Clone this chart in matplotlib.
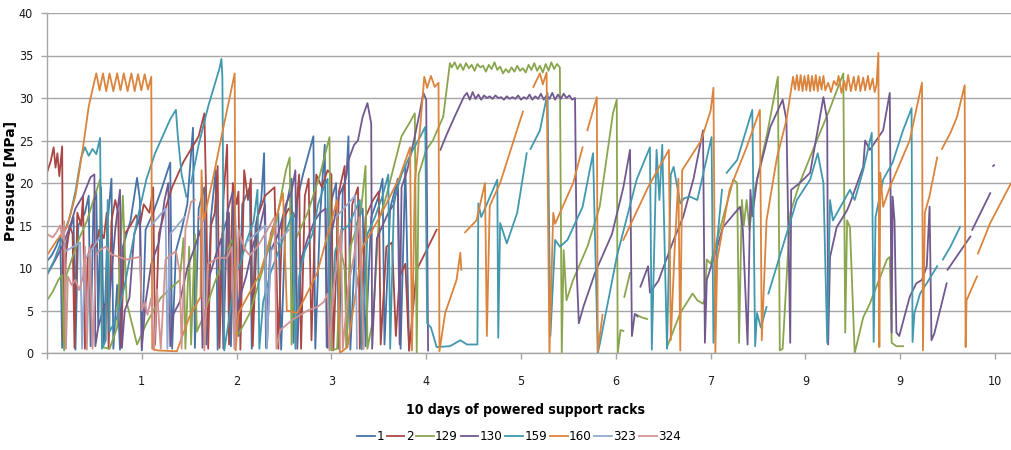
import numpy as np
import matplotlib
matplotlib.use("Agg")
import matplotlib.pyplot as plt
from matplotlib import font_manager as fm

# Pressure readings of eight powered support racks over ten days.
# Each rack is a list of (day, MPa) samples; None marks a break in the record.

rack_names = ["1", "2", "129", "130", "159", "160", "323", "324"]
rack_colors = ["#4572A7", "#AA4643", "#89A54E", "#71588F",
               "#4198AF", "#DB843D", "#93A9CF", "#D19392"]

day_ticks = [0, 1, 2, 3, 4, 5, 6, 7, 8, 9, 10]
day_labels = ["", "1", "2", "3", "4", "5", "6", "7", "9", "9", "10"]
pressure_ticks = [0, 5, 10, 15, 20, 25, 30, 35, 40]

rack_1 = [(0.00, 10.8), (0.05, 11.5), (0.10, 12.6), (0.14, 13.8), (0.16, 0.6), (0.18, 12.0),
          (0.24, 14.5), (0.28, 16.0), (0.30, 0.4), (0.33, 15.0), (0.40, 16.5), (0.44, 18.5),
          (0.46, 0.8), (0.49, 17.5), (0.52, 19.0), (0.54, 3.0), (0.57, 19.5), (0.60, 1.0),
          (0.64, 15.5), (0.68, 20.5), (0.70, 0.5), (0.74, 8.0), (0.77, 0.4), (0.80, 12.5),
          (0.88, 15.5), (0.95, 20.6), (0.98, 18.0), (1.00, 0.3), (1.04, 14.5), (1.12, 16.5),
          (1.20, 19.0), (1.30, 22.4), (1.32, 0.5), (1.36, 12.0), (1.42, 14.5), (1.48, 17.5),
          (1.54, 26.5), (1.56, 0.6), (1.60, 17.0), (1.66, 19.5), (1.68, 1.0), (1.73, 16.0),
          (1.78, 21.5), (1.80, 0.4), (1.85, 14.0), (1.92, 16.5), (1.94, 0.8), (1.98, 18.0),
          (2.02, 2.0), (2.06, 17.5), (2.14, 19.5), (2.16, 0.5), (2.20, 15.0), (2.26, 18.0),
          (2.29, 23.5), (2.31, 0.6), (2.36, 14.0), (2.44, 16.5), (2.47, 0.4), (2.52, 17.0),
          (2.58, 20.5), (2.60, 1.2), (2.64, 18.0), (2.70, 21.0), (2.81, 25.5), (2.83, 0.5),
          (2.88, 16.0), (2.93, 24.5), (2.95, 0.7), (2.99, 17.5), (3.05, 20.0), (3.08, 0.5),
          (3.12, 19.0), (3.16, 21.0), (3.18, 25.5), (3.20, 0.4), (3.26, 15.0), (3.33, 17.0),
          (3.36, 0.8), (3.42, 16.0), (3.50, 18.5), (3.54, 20.5), (3.56, 1.0), (3.62, 17.0),
          (3.70, 20.5), (3.73, 0.5), (3.78, 22.0), (3.82, 0.3)]

rack_2 = [(0.00, 21.2), (0.04, 22.6), (0.07, 24.2), (0.09, 21.8), (0.11, 23.5), (0.13, 20.8),
          (0.16, 24.3), (0.17, 1.5), (0.20, 11.5), (0.24, 15.0), (0.27, 14.0), (0.29, 0.6),
          (0.32, 16.5), (0.36, 15.0), (0.38, 18.5), (0.40, 0.5), (0.43, 11.5), (0.48, 12.8),
          (0.52, 12.5), (0.55, 14.5), (0.60, 13.5), (0.63, 16.5), (0.65, 0.5), (0.68, 15.5),
          (0.72, 18.0), (0.75, 16.5), (0.78, 0.8), (0.82, 14.0), (0.88, 15.0), (0.94, 16.2),
          (0.98, 15.0), (1.02, 17.5), (1.08, 16.5), (1.12, 19.5), (1.14, 1.0), (1.18, 14.0),
          (1.25, 17.0), (1.32, 19.5), (1.38, 21.0), (1.44, 22.5), (1.52, 24.0), (1.60, 25.5),
          (1.66, 28.2), (1.68, 18.0), (1.70, 0.5), (1.73, 15.0), (1.77, 16.5), (1.80, 22.0),
          (1.82, 0.6), (1.86, 18.0), (1.90, 24.5), (1.92, 1.0), (1.96, 20.0), (2.00, 17.5),
          (2.02, 19.0), (2.04, 0.4), (2.08, 21.5), (2.12, 18.0), (2.15, 20.5), (2.17, 0.8),
          (2.22, 16.0), (2.30, 18.5), (2.40, 19.5), (2.44, 0.5), (2.48, 15.5), (2.55, 17.0),
          (2.62, 16.0), (2.66, 21.0), (2.68, 0.5), (2.72, 18.5), (2.76, 20.5), (2.79, 1.5),
          (2.84, 21.0), (2.90, 19.5), (2.96, 21.5), (3.00, 21.0), (3.02, 0.3), (3.08, 19.0),
          (3.14, 22.0), (3.16, 0.7), (3.22, 17.5), (3.28, 19.5), (3.30, 0.5), (3.36, 16.0),
          (3.44, 18.0), (3.50, 19.0), (3.52, 1.0), (3.58, 12.5), (3.64, 13.0), (3.68, 2.0),
          (3.72, 9.0), (3.78, 10.5), (3.82, 0.3), (3.90, 9.8), (4.00, 12.0), (4.11, 14.5)]

rack_129 = [(0.00, 6.2), (0.06, 7.2), (0.12, 8.6), (0.16, 9.2), (0.18, 0.3), (0.20, 9.0),
            (0.26, 11.0), (0.34, 13.5), (0.42, 15.5), (0.49, 18.0), (0.56, 20.4), (0.58, 0.7),
            (0.66, 0.5), (0.74, 3.0), (0.80, 18.5), (0.84, 6.0), (0.95, 1.0), (1.05, 3.5),
            (1.20, 6.5), (1.40, 8.6), (1.44, 13.5), (1.46, 0.5), (1.50, 12.5), (1.52, 1.0),
            (1.56, 14.0), (1.58, 2.5), (1.64, 4.0), (1.76, 8.0), (1.88, 11.5), (1.96, 13.5),
            (1.98, 2.0), (2.03, 2.4), (2.14, 4.7), (2.28, 10.0), (2.42, 15.5), (2.52, 21.5),
            (2.56, 23.0), (2.58, 1.0), (2.62, 13.3), (2.75, 16.5), (2.88, 21.0), (2.98, 25.4),
            (3.00, 0.3), (3.06, 0.5), (3.10, 12.0), (3.14, 10.0), (3.16, 0.6), (3.20, 12.5),
            (3.26, 14.5), (3.31, 16.5), (3.36, 22.0), (3.38, 0.5), (3.44, 4.0), (3.50, 15.6),
            (3.58, 18.5), (3.66, 22.0), (3.74, 25.5), (3.82, 27.0), (3.88, 28.2), (3.90, 0.0),
            (3.92, 21.0), (4.00, 23.9), (4.07, 25.0), (4.18, 27.8), (4.25, 34.1),
            (4.27, 33.6), (4.30, 34.2), (4.33, 33.4), (4.36, 34.0), (4.39, 33.3), (4.42, 34.1),
            (4.45, 33.5), (4.48, 33.9), (4.51, 33.2), (4.54, 34.0), (4.57, 33.6), (4.60, 33.8),
            (4.63, 33.1), (4.66, 33.9), (4.69, 33.4), (4.72, 34.2), (4.75, 33.3), (4.78, 33.7),
            (4.81, 32.9), (4.84, 33.4), (4.87, 33.0), (4.90, 33.6), (4.93, 33.1), (4.96, 33.8),
            (4.99, 33.2), (5.02, 33.5), (5.05, 33.0), (5.08, 33.9), (5.11, 33.3), (5.14, 34.1),
            (5.17, 33.2), (5.20, 33.8), (5.23, 33.0), (5.26, 34.0), (5.29, 33.2), (5.32, 34.2),
            (5.35, 33.4), (5.38, 34.0), (5.41, 33.6), (5.43, 0.0), (5.45, 12.1), (5.48, 6.2),
            (5.55, 8.6), (5.70, 12.5), (5.83, 17.2), (5.97, 28.2), (6.01, 29.8), (6.02, 0.0),
            (6.05, 2.7), (6.08, 2.6), None, (6.09, 6.6), (6.15, 9.4), None, (6.22, 4.5),
            (6.27, 4.2), (6.33, 4.0), None, (6.54, 0.7), (6.68, 4.7), (6.81, 7.0), (6.86, 6.2),
            (6.92, 5.8), (6.94, 6.4), (6.96, 11.0), (7.00, 10.5), (7.24, 20.4), (7.28, 20.0),
            (7.30, 1.2), (7.33, 18.0), (7.35, 15.0), (7.38, 18.0), (7.41, 14.5), (7.45, 18.4),
            (7.60, 26.0), (7.71, 32.5), (7.73, 0.3), (7.76, 0.5), (7.84, 16.5), (7.94, 20.0),
            (8.12, 25.0), (8.25, 28.5), (8.40, 32.9), (8.42, 2.4), (8.44, 15.6), (8.47, 14.8),
            (8.52, 0.0), (8.61, 4.2), (8.68, 5.8), (8.86, 11.0), (8.89, 11.3), (8.91, 1.2),
            (8.96, 0.8), (9.03, 0.8)]

rack_130 = [(0.00, 9.2), (0.08, 10.8), (0.16, 12.5), (0.24, 14.8), (0.30, 17.0), (0.38, 18.5),
            (0.46, 20.7), (0.50, 21.0), (0.51, 0.8), (0.54, 3.0), (0.60, 5.5), (0.66, 6.6),
            (0.72, 14.5), (0.77, 19.2), (0.79, 0.6), (0.82, 5.0), (0.87, 6.5), (0.92, 14.0),
            (0.98, 16.0), (1.00, 0.5), (1.04, 6.0), (1.10, 10.5), (1.18, 13.0), (1.24, 18.0),
            (1.28, 20.0), (1.30, 0.8), (1.33, 4.5), (1.40, 6.0), (1.48, 10.0), (1.56, 12.5),
            (1.62, 14.5), (1.64, 0.6), (1.70, 8.5), (1.78, 11.5), (1.84, 13.5), (1.86, 0.5),
            (1.90, 16.5), (1.96, 19.0), (1.98, 0.5), (2.02, 6.0), (2.10, 9.0), (2.18, 13.0),
            (2.24, 14.5), (2.30, 17.5), (2.32, 0.7), (2.36, 12.0), (2.44, 14.0), (2.52, 17.5),
            (2.58, 19.0), (2.62, 21.5), (2.64, 0.5), (2.68, 11.0), (2.75, 13.5), (2.82, 15.5),
            (2.88, 16.5), (2.94, 17.0), (2.96, 0.6), (3.00, 14.0), (3.08, 18.5), (3.14, 20.0),
            (3.18, 22.7), (3.24, 24.5), (3.28, 25.0), (3.33, 27.8), (3.38, 29.4), (3.42, 27.0),
            (3.43, 0.5), (3.48, 13.5), (3.54, 15.0), (3.60, 16.5), (3.66, 17.5), (3.70, 20.0),
            (3.72, 1.0), (3.74, 19.5), (3.80, 21.5), (3.88, 25.5), (3.93, 28.2), (3.97, 30.6),
            (4.00, 29.8), (4.02, 0.3), None, (4.15, 23.9), (4.22, 25.8), (4.30, 27.8),
            (4.40, 30.2), (4.43, 30.6), (4.46, 29.8), (4.49, 30.7), (4.52, 29.9), (4.55, 30.4),
            (4.58, 29.8), (4.61, 30.3), (4.64, 30.0), (4.67, 30.2), (4.70, 29.9), (4.73, 30.3),
            (4.76, 30.0), (4.79, 30.1), (4.82, 29.8), (4.85, 30.2), (4.88, 29.9), (4.91, 30.1),
            (4.94, 29.9), (4.97, 30.3), (5.00, 29.8), (5.03, 30.1), (5.06, 29.9), (5.09, 30.4),
            (5.12, 29.8), (5.15, 30.2), (5.18, 29.9), (5.21, 30.5), (5.24, 29.8), (5.27, 30.3),
            (5.30, 29.9), (5.33, 30.6), (5.36, 29.8), (5.39, 30.4), (5.42, 29.9), (5.45, 30.5),
            (5.48, 30.0), (5.51, 30.3), (5.54, 29.8), (5.57, 30.0), (5.59, 9.0), (5.61, 3.5),
            (5.66, 5.5), (5.78, 9.4), (5.96, 14.0), (6.08, 19.5), (6.15, 23.9), (6.17, 2.0),
            (6.20, 4.6), (6.23, 4.3), None, (6.26, 7.8), (6.34, 10.2), (6.36, 7.1), (6.45, 8.5),
            (6.61, 13.3), (6.71, 16.0), (6.82, 20.5), (6.92, 26.2), (6.94, 1.2), (6.96, 8.6),
            (7.07, 12.5), (7.13, 14.8), (7.31, 17.2), (7.34, 14.5), (7.39, 1.0), (7.42, 19.2),
            (7.44, 16.1), (7.49, 20.4), (7.63, 26.6), (7.76, 29.8), (7.80, 27.4), (7.84, 1.2),
            (7.85, 19.2), (7.94, 20.0), (8.05, 21.2), (8.19, 30.1), (8.23, 27.4), (8.24, 1.0),
            (8.26, 11.3), (8.33, 14.8), (8.44, 16.8), (8.47, 17.6), (8.61, 21.9), (8.63, 25.0),
            (8.68, 23.9), (8.82, 26.2), (8.89, 30.6), (8.91, 2.4), (8.92, 18.4), (8.94, 15.6),
            (8.96, 2.4), (8.99, 2.0), (9.10, 6.6), (9.17, 8.2), (9.23, 8.6), (9.28, 10.2),
            (9.31, 17.2), (9.33, 1.5), (9.36, 2.3), (9.49, 8.2), None, (9.50, 9.8), (9.74, 13.7),
            None, (9.76, 14.5), (9.95, 18.8), None, (9.98, 22.0), (9.99, 22.1)]

rack_159 = [(0.00, 9.2), (0.08, 11.0), (0.16, 13.5), (0.24, 16.0), (0.30, 19.0), (0.36, 23.0),
            (0.40, 24.2), (0.44, 23.2), (0.48, 24.0), (0.52, 23.4), (0.56, 25.3), (0.58, 0.5),
            (0.62, 1.5), (0.64, 18.0), (0.66, 2.5), (0.74, 4.2), (0.82, 8.0), (0.95, 15.6),
            (1.05, 20.5), (1.14, 23.5), (1.22, 25.5), (1.30, 27.5), (1.36, 28.6), (1.38, 25.5),
            (1.42, 21.0), (1.47, 18.4), None, (1.52, 20.0), (1.60, 24.5), (1.70, 29.0),
            (1.78, 32.0), (1.82, 33.5), (1.84, 34.6), (1.85, 32.5), (1.87, 0.3), (1.92, 4.0),
            (1.98, 9.0), (2.04, 10.5), (2.10, 13.0), (2.18, 15.5), (2.22, 19.2), (2.24, 0.5),
            (2.28, 6.0), (2.36, 9.5), (2.46, 12.5), (2.56, 15.5), (2.60, 16.5), (2.62, 0.5),
            (2.66, 9.0), (2.72, 12.0), (2.80, 14.0), (2.86, 17.5), (2.92, 19.5), (2.96, 20.5),
            (2.98, 0.5), (3.04, 12.0), (3.12, 14.5), (3.18, 15.0), (3.24, 16.5), (3.30, 18.0),
            (3.32, 0.4), (3.38, 14.0), (3.46, 16.0), (3.54, 18.5), (3.60, 21.0), (3.62, 0.5),
            (3.66, 18.0), (3.74, 21.0), (3.84, 23.5), (3.94, 25.5), (3.99, 26.6), (4.01, 3.5),
            (4.05, 3.0), (4.11, 0.7), (4.25, 0.8), (4.36, 1.5), (4.43, 1.0), (4.54, 1.0),
            (4.55, 17.6), (4.58, 16.0), (4.62, 17.0), (4.75, 20.4), (4.76, 1.8), (4.78, 15.3),
            (4.85, 12.9), (4.96, 16.5), (5.06, 23.5), None, (5.10, 24.0), (5.20, 26.2),
            (5.28, 30.6), (5.31, 2.0), (5.36, 13.3), (5.41, 12.5), (5.49, 13.3), (5.65, 17.2),
            (5.76, 23.5), (5.81, 0.0), (5.83, 1.0), (6.01, 11.3), (6.22, 20.4), (6.36, 24.2),
            (6.38, 0.4), (6.43, 23.9), (6.46, 18.0), (6.49, 24.5), (6.54, 0.5), (6.58, 21.0),
            (6.61, 21.9), (6.68, 17.6), (6.72, 18.2), (6.78, 18.4), (6.86, 18.0), (6.89, 19.5),
            (7.01, 25.4), (7.03, 1.2), (7.07, 13.3), (7.12, 19.2), None, (7.17, 21.2),
            (7.28, 22.7), (7.44, 28.6), (7.47, 0.8), (7.49, 4.7), (7.53, 3.0), (7.59, 5.4),
            None, (7.61, 7.0), (7.76, 12.5), (7.91, 18.0), (8.05, 20.4), (8.13, 23.5),
            (8.19, 20.0), (8.23, 1.2), (8.26, 18.0), (8.29, 15.6), (8.47, 19.2), (8.52, 18.0),
            (8.61, 21.5), (8.70, 25.9), (8.72, 1.3), (8.74, 16.0), (8.82, 20.4), (8.92, 22.4),
            (9.03, 26.2), (9.12, 28.8), (9.13, 1.3), (9.15, 4.7), (9.21, 7.0), (9.28, 8.2),
            (9.39, 10.2), None, (9.45, 11.0), (9.53, 12.5), (9.63, 14.8)]

rack_160 = [(0.00, 11.5), (0.10, 13.2), (0.21, 14.8), (0.30, 18.5), (0.38, 24.2), (0.44, 29.0),
            (0.49, 31.5), (0.52, 32.9), (0.555, 30.9), (0.59, 32.9), (0.625, 30.8), (0.66, 32.9),
            (0.70, 30.8), (0.74, 32.9), (0.775, 30.9), (0.81, 32.9), (0.85, 30.8), (0.89, 32.9),
            (0.925, 30.8), (0.96, 32.8), (0.995, 30.9), (1.03, 32.8), (1.065, 31.0), (1.10, 32.5),
            (1.11, 0.5), (1.17, 0.3), (1.37, 0.2), (1.50, 4.2), (1.62, 6.6), (1.63, 21.5),
            (1.65, 15.5), (1.75, 20.5), (1.86, 26.5), (1.98, 32.9), (1.99, 0.3), (2.02, 4.7),
            (2.25, 9.4), (2.49, 18.8), (2.53, 5.0), (2.64, 4.7), (2.85, 9.4), (3.06, 18.0),
            (3.09, 0.0), (3.17, 0.7), (3.33, 12.5), (3.51, 16.0), (3.72, 20.7), (3.83, 24.2),
            (3.85, 0.3), (3.88, 20.0), (3.94, 27.0), (3.98, 32.5), (4.01, 31.2), (4.05, 32.6),
            (4.09, 31.3), (4.13, 31.8), (4.14, 0.2), (4.20, 4.7), (4.32, 8.6), (4.36, 11.8),
            (4.37, 9.8), None, (4.41, 14.2), (4.53, 15.6), (4.62, 20.0), (4.64, 2.0),
            (4.67, 17.3), (4.78, 20.0), (5.02, 28.4), None, (5.13, 31.3), (5.20, 32.9),
            (5.23, 31.6), (5.27, 33.0), (5.30, 0.0), (5.34, 16.5), (5.36, 15.2), (5.55, 20.0),
            (5.65, 24.2), None, (5.70, 26.2), (5.80, 30.1), (5.81, 0.2), (5.86, 4.5), None,
            (6.08, 13.3), (6.34, 19.5), (6.56, 23.9), (6.58, 1.5), (6.62, 12.0), (6.66, 20.5),
            (6.68, 0.3), (6.70, 21.5), (6.90, 25.0), (7.00, 28.5), (7.03, 31.2), (7.05, 0.0),
            (7.07, 11.0), (7.20, 19.2), (7.38, 24.2), (7.52, 28.6), (7.54, 1.5), (7.59, 15.6),
            (7.70, 23.0), (7.80, 27.4), (7.87, 32.5), (7.89, 31.0), (7.91, 32.7), (7.93, 30.9),
            (7.95, 32.7), (7.97, 30.8), (7.99, 32.6), (8.01, 30.9), (8.03, 32.7), (8.05, 30.8),
            (8.07, 32.6), (8.09, 30.9), (8.11, 32.7), (8.13, 30.8), (8.15, 32.5), (8.17, 31.0),
            (8.19, 32.6), (8.21, 30.9), (8.24, 31.8), (8.27, 30.7), (8.30, 32.0), (8.33, 31.5),
            (8.35, 32.6), (8.38, 30.6), (8.41, 32.0), (8.43, 30.9), (8.45, 32.7), (8.48, 30.8),
            (8.51, 32.5), (8.53, 30.9), (8.56, 32.6), (8.58, 30.8), (8.61, 32.4), (8.63, 30.9),
            (8.66, 32.6), (8.68, 31.0), (8.71, 32.3), (8.73, 30.7), (8.75, 31.5), (8.77, 35.3),
            (8.78, 0.7), (8.79, 21.2), (8.82, 17.2), (8.89, 19.5), (9.10, 25.0), (9.23, 31.8),
            (9.24, 0.3), (9.26, 16.5), (9.31, 18.5), (9.39, 23.0), None, (9.44, 24.0),
            (9.53, 25.9), (9.60, 27.8), (9.68, 31.5), (9.69, 0.7), (9.70, 6.2), (9.81, 9.0),
            None, (9.82, 11.7), (9.95, 15.3), (10.17, 20.0)]

rack_323 = [(0.20, 12.0), (0.35, 13.0), (0.37, 0.5), (0.40, 11.0), (0.55, 13.5), None,
            (1.10, 15.0), (1.25, 17.0), (1.27, 0.5), (1.30, 14.0), (1.45, 16.0), None,
            (2.10, 13.0), (2.30, 15.0), (2.32, 0.5), (2.36, 12.0), (2.55, 14.5), None,
            (3.05, 16.0), (3.25, 18.5), (3.27, 0.5)]

rack_324 = [(0.00, 14.0), (0.06, 13.6), (0.10, 14.2), (0.14, 15.0), (0.16, 13.5), (0.18, 15.5),
            (0.20, 0.5), (0.22, 9.0), (0.26, 8.0), (0.30, 8.6), (0.34, 7.4), (0.38, 9.0),
            (0.40, 12.5), (0.42, 0.4), (0.45, 12.4), (0.48, 0.5), (0.52, 11.5), (0.55, 12.1),
            (0.62, 12.5), (0.68, 11.6), (0.76, 11.3), (0.84, 11.0), (0.98, 11.3), (1.00, 5.0),
            (1.03, 6.0), (1.06, 4.5), (1.10, 6.5), (1.13, 0.3), (1.16, 7.5), (1.20, 0.5),
            (1.25, 11.0), (1.36, 12.0), (1.40, 9.5), (1.42, 0.5), (1.46, 14.5), (1.52, 17.8),
            (1.56, 18.0), None, (1.60, 16.0), (1.64, 15.5), (1.66, 0.3), (1.70, 10.5),
            (1.80, 11.2), (1.90, 11.2), (1.95, 12.5), (1.98, 0.5), (2.02, 14.5), (2.06, 13.0),
            (2.10, 12.0), (2.14, 11.5), (2.22, 12.5), (2.30, 14.0), (2.40, 16.0), (2.42, 0.5),
            (2.46, 2.7), (2.60, 4.0), (2.75, 5.0), (2.85, 5.4), (2.92, 6.0), (2.96, 7.0),
            (2.98, 0.3), (3.02, 7.5), (3.08, 12.0), (3.10, 14.5), (3.12, 0.5), (3.18, 8.0),
            (3.24, 11.5), (3.30, 16.0), (3.34, 0.5)]

racks = [rack_1, rack_2, rack_129, rack_130, rack_159, rack_160, rack_323, rack_324]


def split_xy(points):
    xs, ys = [], []
    for p in points:
        if p is None:
            xs.append(np.nan)
            ys.append(np.nan)
        else:
            xs.append(p[0])
            ys.append(p[1])
    return np.array(xs, dtype=float), np.array(ys, dtype=float)


# Prefer a condensed face for the small labels when one is installed.
installed = {(f.name, f.stretch) for f in fm.fontManager.ttflist}
if any(name == "Liberation Sans Narrow" for name, _ in installed):
    small_font = dict(family=["Liberation Sans Narrow", "DejaVu Sans"])
else:
    small_font = dict(family=["DejaVu Sans"], stretch="condensed")

plt.rcParams["font.family"] = ["DejaVu Sans"]

W, H = 1011, 450
fig = plt.figure(figsize=(W / 100, H / 100), dpi=100)
left_px, right_px, top_px, bottom_px = 47, 1011, 13, 353
ax = fig.add_axes([left_px / W, 1 - bottom_px / H,
                   (right_px - left_px) / W, (bottom_px - top_px) / H])

grid_color = "#A6A6A6"
ax.set_ylim(0, 40)
ax.set_xlim(0, (right_px - left_px) / 94.8)
ax.set_yticks(pressure_ticks)
ax.set_xticks(day_ticks)
ax.set_xticklabels(day_labels)
ax.yaxis.grid(True, color=grid_color, linewidth=1.0)
ax.set_axisbelow(True)
for side in ("top", "right"):
    ax.spines[side].set_visible(False)
for side in ("left", "bottom"):
    ax.spines[side].set_color(grid_color)
    ax.spines[side].set_linewidth(1.0)
ax.tick_params(axis="both", colors=grid_color, length=4, width=1.0, labelcolor="#1a1a1a")
ax.tick_params(axis="x", pad=12)
ax.tick_params(axis="y", pad=6)
for lbl in ax.get_xticklabels() + ax.get_yticklabels():
    lbl.set_fontsize(9)
    lbl.set_fontfamily(small_font["family"])
    if "stretch" in small_font:
        lbl.set_fontstretch(small_font["stretch"])

for name, color, pts in zip(rack_names, rack_colors, racks):
    xs, ys = split_xy(pts)
    ax.plot(xs, ys, color=color, linewidth=1.3, label=name, solid_joinstyle="round")

ax.set_ylabel("Pressure [MPa]", fontsize=10, fontweight="bold")
ax.yaxis.set_label_coords((18 - left_px) / (right_px - left_px), 0.506)
ax.set_xlabel("10 days of powered support racks", fontsize=10, fontweight="bold",
              **small_font)
ax.xaxis.set_label_coords((525 - left_px) / (right_px - left_px),
                          -(403 - bottom_px) / (bottom_px - top_px))

leg = fig.legend(loc="center", bbox_to_anchor=(519 / W, 1 - 437 / H), ncol=8, frameon=False,
                 handlelength=1.35, handletextpad=0.1, columnspacing=0.2,
                 prop=dict(size=9.5, **small_font))

fig.savefig("out.png", dpi=100)
